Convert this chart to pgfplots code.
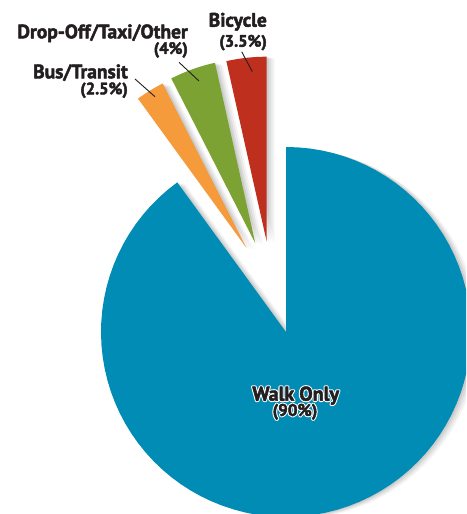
\documentclass[border=0pt]{standalone}
\usepackage{pgfplots}
\pgfplotsset{compat=1.18}
\usepackage{pgfplotstable}
\usepackage{fontspec}
\setmainfont{PT Sans}
\definecolor{walk}{HTML}{008CB5}
\definecolor{bike}{HTML}{BF2F1D}
\definecolor{drop}{HTML}{7BA233}
\definecolor{bus}{HTML}{F59B3C}
\definecolor{txt}{HTML}{231F20}

% mode share (percent) and explode offset of each slice (px)
\pgfplotstableread{
name    pct  dx     dy
Bicycle 3.5  -19.3  90.3
DropOff 4.0  -30.7  88.7
Bus     2.5  -39.3  83.7
Walk    90.0  0.0   0.0
}\slices

\def\R{185}
\def\cx{286}
\def\cy{182}

\newcommand\getrow[4]{% row, macro pct, macro dx, macro dy
  \pgfplotstablegetelem{#1}{pct}\of\slices\xdef#2{\pgfplotsretval}%
  \pgfplotstablegetelem{#1}{dx}\of\slices\xdef#3{\pgfplotsretval}%
  \pgfplotstablegetelem{#1}{dy}\of\slices\xdef#4{\pgfplotsretval}%
}

\newcommand\slice[5]{% start, end, dx, dy, options
  \addplot[#5, domain=#1:#2, samples=90, variable=\t]
    ({\cx+#3+\R*cos(\t)},{\cy+#4+\R*sin(\t)}) -- (axis cs:{\cx+#3},{\cy+#4}) -- cycle;
}
\newcommand\shadowslice[4]{%
  \slice{#1}{#2}{#3+2}{#4-0.5}{fill=black, draw=none, opacity=0.07}
  \slice{#1}{#2}{#3+4}{#4-1}{fill=black, draw=none, opacity=0.06}
  \slice{#1}{#2}{#3+6}{#4-1.5}{fill=black, draw=none, opacity=0.05}
  \slice{#1}{#2}{#3+8}{#4-2}{fill=black, draw=none, opacity=0.04}
}
% slightly heavier bold (fill + thin stroke in the text colour)
\newcommand\heavy[1]{\special{pdf:literal direct 2 Tr 0.45 w 1 j 0.137 0.122 0.125 RG}#1\special{pdf:literal direct 0 Tr}}
% text with a white halo: a stroked white copy under the normal text
\newcommand\halo[1]{\rlap{\special{pdf:literal direct 1 Tr 2.6 w 1 j 1 1 1 RG}#1\special{pdf:literal direct 0 Tr}}\heavy{#1}}

\begin{document}
\begin{tikzpicture}
\getrow{0}{\pA}{\xA}{\yA}
\getrow{1}{\pB}{\xB}{\yB}
\getrow{2}{\pC}{\xC}{\yC}
\getrow{3}{\pD}{\xD}{\yD}
\pgfmathsetmacro\aO{90}
\pgfmathsetmacro\aA{\aO+3.6*\pA}
\pgfmathsetmacro\aB{\aA+3.6*\pB}
\pgfmathsetmacro\aC{\aB+3.6*\pC}
\pgfmathsetmacro\aD{\aC+3.6*\pD}
\begin{axis}[
  width=466pt, height=514pt, scale only axis,
  xmin=0, xmax=466, ymin=0, ymax=514,
  hide axis, clip=true,
]
\path (rel axis cs:0,0) rectangle (rel axis cs:1,1);
% shadows
\shadowslice{\aC}{\aD}{\xD}{\yD}
\shadowslice{\aB}{\aC}{\xC}{\yC}
\shadowslice{\aA}{\aB}{\xB}{\yB}
\shadowslice{\aO}{\aA}{\xA}{\yA}
% slices
\slice{\aC}{\aD}{\xD}{\yD}{fill=walk, draw=none}
\slice{\aB}{\aC}{\xC}{\yC}{fill=bus, draw=none}
\slice{\aA}{\aB}{\xB}{\yB}{fill=drop, draw=none}
\slice{\aO}{\aA}{\xA}{\yA}{fill=bike, draw=none}
% leader lines
\draw[txt, line width=0.9pt] (axis cs:241.7,462.3) -- (axis cs:252.3,442.3);
\draw[txt, line width=0.9pt] (axis cs:179,451.7) -- (axis cs:199,433);
\draw[txt, line width=0.9pt] (axis cs:135,435) -- (axis cs:155,417.3);
% labels
\node[anchor=base east, inner sep=0, txt, font=\fontsize{19.5}{19.5}\selectfont\bfseries] at (axis cs:267,487.3) {\heavy{Bicycle}};
\node[anchor=base east, inner sep=0, txt, font=\fontsize{16.5}{16.5}\selectfont\bfseries] at (axis cs:267,467.3) {\heavy{(3.5\%)}};
\node[anchor=base east, inner sep=0, txt, font=\fontsize{19.5}{19.5}\selectfont\bfseries] at (axis cs:188,475.7) {\heavy{Drop-Off/Taxi/Other}};
\node[anchor=base east, inner sep=0, txt, font=\fontsize{16.5}{16.5}\selectfont\bfseries] at (axis cs:188,460) {\heavy{(4\%)}};
\node[anchor=base east, inner sep=0, txt, font=\fontsize{19.5}{19.5}\selectfont\bfseries] at (axis cs:128,435.7) {\heavy{Bus/Transit}};
\node[anchor=base east, inner sep=0, txt, font=\fontsize{16.5}{16.5}\selectfont\bfseries] at (axis cs:128,419.7) {\heavy{(2.5\%)}};
\node[anchor=base, inner sep=0, txt, font=\fontsize{20}{20}\selectfont\bfseries] at (axis cs:295.7,113.3) {\halo{Walk Only}};
\node[anchor=base, inner sep=0, txt, font=\fontsize{17}{17}\selectfont\bfseries] at (axis cs:295,98) {\halo{(90\%)}};
\end{axis}
\end{tikzpicture}
\end{document}
